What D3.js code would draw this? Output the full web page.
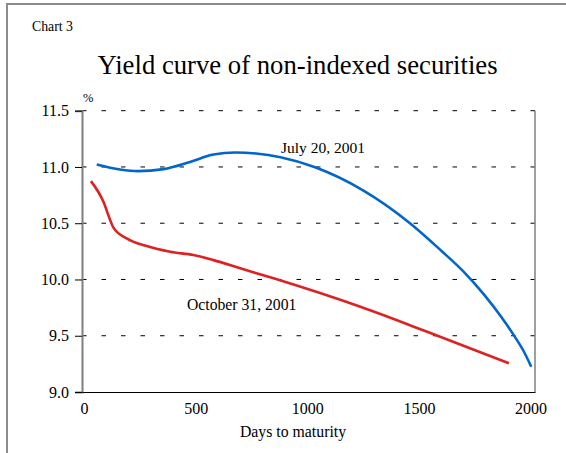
<!DOCTYPE html>
<html>
<head>
<meta charset="utf-8">
<script src="https://cdn.jsdelivr.net/npm/d3@7"></script>
<style>
  html, body { margin: 0; padding: 0; background: #fff; }
  svg { display: block; }
  svg text { font-family: "Liberation Serif", "Times New Roman", serif !important; fill: #000; }
</style>
</head>
<body>
<svg id="chart" width="566" height="453"></svg>
<script>
// ---- Data ----
const yTicks = [9.0, 9.5, 10.0, 10.5, 11.0, 11.5];
const xTicks = [0, 500, 1000, 1500, 2000];

const julyDays   = [57, 161, 243, 356, 475, 580, 677, 770, 880, 1035, 1250, 1460, 1600, 1700, 1790, 1870, 1930, 1970, 2003];
const julyYield  = [11.022, 10.978, 10.963, 10.981, 11.045, 11.11, 11.128, 11.119, 11.086, 10.997, 10.792, 10.5, 10.256, 10.07, 9.87, 9.665, 9.49, 9.36, 9.225];

const octDays    = [31, 87, 117, 131, 191, 281, 386, 490, 580, 700, 849, 1238, 1537, 1903];
const octYield   = [10.874, 10.69, 10.528, 10.463, 10.365, 10.297, 10.246, 10.217, 10.172, 10.099, 10.01, 9.757, 9.535, 9.255];

const seriesNames = ["July 20, 2001", "October 31, 2001"];

// ---- Layout ----
const svg = d3.select("#chart");
const plot = { left: 82, right: 535, top: 110.7, bottom: 392 };
const serif = "'Liberation Serif', 'Times New Roman', serif";

const x = d3.scaleLinear().domain([-9, 2020]).range([plot.left, plot.right]);
const y = d3.scaleLinear().domain([9, 11.5]).range([plot.bottom, plot.top]);

// outer frame (top and left)
svg.append("line").attr("x1", 6).attr("x2", 566).attr("y1", 4).attr("y2", 4)
  .attr("stroke", "#8c8c8c").attr("stroke-width", 2);
svg.append("line").attr("x1", 7).attr("x2", 7).attr("y1", 3).attr("y2", 453)
  .attr("stroke", "#8c8c8c").attr("stroke-width", 2);

// titles
svg.append("text").attr("x", 32).attr("y", 31).style("font-size", "13.8px").text("Chart 3");
svg.append("text").attr("x", 297.5).attr("y", 74).attr("text-anchor", "middle")
  .style("font-size", "26.7px").text("Yield curve of non-indexed securities");

// gridlines (dashed)
svg.append("g").selectAll("line").data(yTicks.filter(d => d > 9)).join("line")
  .attr("x1", plot.left).attr("x2", plot.right)
  .attr("y1", d => y(d)).attr("y2", d => y(d))
  .attr("stroke", "#000").attr("stroke-width", 1)
  .attr("stroke-dasharray", "4.5,15");

// right border
svg.append("line").attr("x1", plot.right).attr("x2", plot.right)
  .attr("y1", plot.top).attr("y2", plot.bottom)
  .attr("stroke", "#7f7f7f").attr("stroke-width", 1.5);

// y axis
const yAxis = d3.axisLeft(y).tickValues(yTicks).tickFormat(d3.format(".1f"))
  .tickSize(7).tickPadding(6);
const gy = svg.append("g").attr("transform", `translate(${plot.left},0)`).call(yAxis)
  .attr("font-family", serif).attr("font-size", 16);
gy.select(".domain").attr("stroke", "#7f7f7f").attr("stroke-width", 2);
gy.selectAll(".tick line").attr("stroke", "#000");
gy.selectAll(".tick text").style("font-size", "16px");

// x axis
const xAxis = d3.axisBottom(x).tickValues(xTicks).tickFormat(d3.format("d"))
  .tickSize(0).tickPadding(11);
const gx = svg.append("g").attr("transform", `translate(0,${plot.bottom})`).call(xAxis)
  .attr("font-family", serif).attr("font-size", 16);
gx.select(".domain").attr("stroke", "#000").attr("stroke-width", 1.2);
gx.selectAll(".tick text").style("font-size", "16px");

// axis labels
svg.append("text").attr("x", 83).attr("y", 102).style("font-size", "12.5px").text("%");
svg.append("text").attr("x", 293).attr("y", 437).attr("text-anchor", "middle")
  .style("font-size", "15.8px").text("Days to maturity");

// lines
const line = d3.line().x(d => x(d[0])).y(d => y(d[1])).curve(d3.curveMonotoneX);
const july = julyDays.map((d, i) => [d, julyYield[i]]);
const oct = octDays.map((d, i) => [d, octYield[i]]);

svg.append("path").datum(oct).attr("d", line)
  .attr("fill", "none").attr("stroke", "#dd2222").attr("stroke-width", 2.6);
svg.append("path").datum(july).attr("d", line)
  .attr("fill", "none").attr("stroke", "#0066cc").attr("stroke-width", 2.6);

// series labels
svg.append("text").attr("x", 281).attr("y", 153).style("font-size", "15.5px").text(seriesNames[0]);
svg.append("text").attr("x", 187).attr("y", 310).style("font-size", "15.7px").text(seriesNames[1]);
</script>
</body>
</html>
